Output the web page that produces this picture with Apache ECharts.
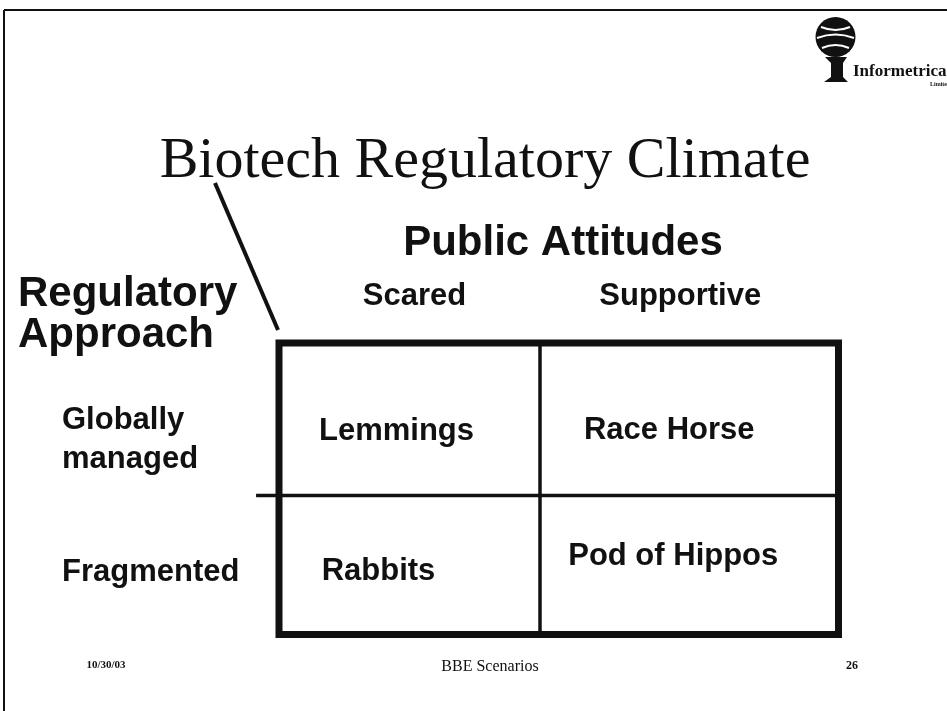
<!DOCTYPE html>
<html><head><meta charset="utf-8">
<script src="https://cdn.jsdelivr.net/npm/echarts@6/dist/echarts.min.js"></script>
<style>html,body{margin:0;padding:0;background:#fff}#c{width:947px;height:711px}</style>
</head><body><div id="c"></div>
<script>
// ---- content ----
const slideTitle = 'Biotech Regulatory Climate';
const columnTitle = 'Public Attitudes';
const rowTitle = 'Regulatory\nApproach';
const columns = ['Scared', 'Supportive'];
const rows = ['Globally\nmanaged', 'Fragmented'];
const cellCol = [0, 1, 0, 1];
const cellRow = [0, 0, 1, 1];
const cellNames = ['Lemmings', 'Race Horse', 'Rabbits', 'Pod of Hippos'];
const footerDate = '10/30/03';
const footerCenter = 'BBE Scenarios';
const pageNumber = '26';
const logoName = 'Informetrica';
const logoSub = 'Limited';

// ---- layout (axis units 0..100) ----
const colEdges = [0, 46.65, 100];
const rowEdges = [0, 52.3, 100];
const cellNudge = [[-13, 12], [-20, 11], [-31, 6], [-16, -9]];
const colNudge = [5, -9];
const rowNudge = [21, 7];

const INK = '#111';
const SANS = '"Liberation Sans", Arial, sans-serif';
const SERIF = '"Liberation Serif", "Times New Roman", serif';

const chart = echarts.init(document.getElementById('c'), null, {renderer: 'canvas'});

function txt(text, x, y, font, align, lh) {
  return {type: 'text', style: {text, x, y, font, fill: INK, align: align || 'center', verticalAlign: 'middle', lineHeight: lh}};
}

const option = {
  animation: false,
  backgroundColor: '#fff',
  grid: {left: 279, top: 343, right: 108.5, bottom: 76.5, show: true, borderColor: INK, borderWidth: 7, backgroundColor: 'transparent'},
  xAxis: {type: 'value', min: 0, max: 100, show: false},
  yAxis: {type: 'value', min: 0, max: 100, inverse: true, show: false},
  series: [
    {
      type: 'custom', name: 'dividers', silent: true,
      data: [[0, 0]],
      renderItem: function (params, api) {
        const vTop = api.coord([colEdges[1], rowEdges[0]]);
        const vBot = api.coord([colEdges[1], rowEdges[2]]);
        const hL = api.coord([-4.1, rowEdges[1]]);
        const hR = api.coord([colEdges[2], rowEdges[1]]);
        return {type: 'group', children: [
          {type: 'line', shape: {x1: vTop[0], y1: vTop[1], x2: vBot[0], y2: vBot[1]}, style: {stroke: INK, lineWidth: 3.5}},
          {type: 'line', shape: {x1: hL[0], y1: hL[1], x2: hR[0], y2: hR[1]}, style: {stroke: INK, lineWidth: 3.5}}
        ]};
      }
    },
    {
      type: 'custom', name: 'cells', silent: true,
      data: cellNames.map((n, i) => [cellCol[i], cellRow[i]]),
      renderItem: function (params, api) {
        const c = api.value(0), r = api.value(1);
        const p0 = api.coord([colEdges[c], rowEdges[r]]);
        const p1 = api.coord([colEdges[c + 1], rowEdges[r + 1]]);
        const n = cellNudge[params.dataIndex];
        return txt(cellNames[params.dataIndex], (p0[0] + p1[0]) / 2 + n[0], (p0[1] + p1[1]) / 2 + n[1], 'bold 31px ' + SANS);
      }
    },
    {
      type: 'custom', name: 'columns', silent: true,
      data: columns.map((c, i) => [i, 0]),
      renderItem: function (params, api) {
        const c = api.value(0);
        const p0 = api.coord([colEdges[c], 0]);
        const p1 = api.coord([colEdges[c + 1], 0]);
        return txt(columns[c], (p0[0] + p1[0]) / 2 + colNudge[c], p0[1] - 47, 'bold 31px ' + SANS);
      }
    },
    {
      type: 'custom', name: 'rows', silent: true,
      data: rows.map((r, i) => [0, i]),
      renderItem: function (params, api) {
        const r = api.value(1);
        const p0 = api.coord([0, rowEdges[r]]);
        const p1 = api.coord([0, rowEdges[r + 1]]);
        return txt(rows[r], 62, (p0[1] + p1[1]) / 2 + rowNudge[r], 'bold 31px ' + SANS, 'left', 39);
      }
    }
  ],
  graphic: [
    // slide frame
    {type: 'line', shape: {x1: 4, y1: 10, x2: 947, y2: 10}, style: {stroke: INK, lineWidth: 2}},
    {type: 'line', shape: {x1: 4, y1: 10, x2: 4, y2: 711}, style: {stroke: INK, lineWidth: 2}},
    // title
    txt(slideTitle, 485, 162, '58px ' + SERIF),
    txt(columnTitle, 563, 243, 'bold 42px ' + SANS),
    txt(rowTitle, 18, 315, 'bold 42px ' + SANS, 'left', 41),
    // diagonal
    {type: 'line', shape: {x1: 215, y1: 183, x2: 278, y2: 330}, style: {stroke: INK, lineWidth: 4}},
    // footer
    txt(footerDate, 106, 665, 'bold 11px ' + SERIF),
    txt(footerCenter, 490, 667, '16px ' + SERIF),
    txt(pageNumber, 852, 666, 'bold 12px ' + SERIF),
    // logo
    {type: 'circle', shape: {cx: 835.5, cy: 37, r: 20}, style: {fill: INK}},
    {type: 'bezierCurve', shape: {x1: 821, y1: 27, x2: 850, y2: 27, cpx1: 835.5, cpy1: 33}, style: {stroke: '#fff', lineWidth: 2, fill: null}},
    {type: 'bezierCurve', shape: {x1: 817, y1: 38, x2: 854, y2: 38, cpx1: 835.5, cpy1: 31}, style: {stroke: '#fff', lineWidth: 2, fill: null}},
    {type: 'bezierCurve', shape: {x1: 822, y1: 48, x2: 849, y2: 48, cpx1: 835.5, cpy1: 42}, style: {stroke: '#fff', lineWidth: 2, fill: null}},
    {type: 'polygon', shape: {points: [[825, 57], [847, 57], [843, 63], [843, 77], [848, 82], [824, 82], [831, 77], [831, 63]]}, style: {fill: INK}},
    txt(logoName, 853, 72, 'bold 17px ' + SERIF, 'left'),
    txt(logoSub, 930, 84, 'bold 6px ' + SERIF, 'left')
  ]
};
chart.setOption(option);
</script>
</body></html>
